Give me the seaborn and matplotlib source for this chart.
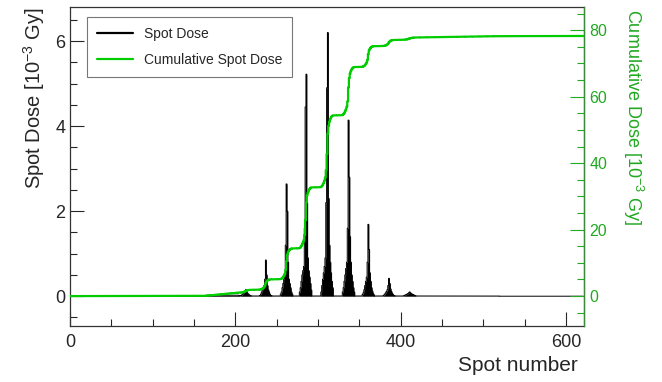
import numpy as np
import pandas as pd
import matplotlib
matplotlib.use("Agg")
import matplotlib.pyplot as plt
import seaborn as sns
from matplotlib.ticker import MultipleLocator

# ---------------- data ----------------
n_spots = 622
# start spot of each energy layer cluster and the spot doses of that cluster [1e-3 Gy]
layer_starts = [206, 230, 255, 278, 304, 330, 354, 379, 404]
layer_doses = [
    [0.01, 0.02, 0.03, 0.05, 0.07, 0.09, 0.12, 0.16, 0.10, 0.07, 0.05, 0.03, 0.02, 0.01, 0.0],
    [0.02, 0.05, 0.10, 0.15, 0.20, 0.25, 0.40, 0.85, 0.50, 0.25, 0.15, 0.10, 0.05, 0.02, 0.01],
    [0.05, 0.10, 0.20, 0.30, 0.40, 0.50, 1.20, 2.64, 2.00, 0.80, 0.40, 0.30, 0.20, 0.10, 0.05],
    [0.10, 0.20, 0.35, 0.50, 0.60, 0.70, 1.60, 4.45, 5.22, 2.20, 0.90, 0.60, 0.45, 0.30, 0.15],
    [0.10, 0.25, 0.40, 0.55, 0.70, 0.90, 2.20, 4.90, 6.20, 2.30, 1.20, 0.80, 0.55, 0.35, 0.20],
    [0.10, 0.20, 0.35, 0.50, 0.65, 0.80, 1.60, 4.14, 2.80, 1.40, 0.80, 0.50, 0.35, 0.20, 0.10],
    [0.04, 0.08, 0.15, 0.25, 0.35, 0.45, 0.80, 1.69, 1.10, 0.55, 0.35, 0.20, 0.12, 0.06, 0.03],
    [0.01, 0.03, 0.05, 0.08, 0.11, 0.15, 0.25, 0.42, 0.30, 0.17, 0.11, 0.07, 0.04, 0.02, 0.01],
    [0.01, 0.02, 0.03, 0.04, 0.05, 0.06, 0.08, 0.10, 0.08, 0.06, 0.05, 0.04, 0.03, 0.02, 0.01],
]
# low background dose level between spot ranges: (first spot, last spot, dose)
bg_first = [0, 165, 205, 420, 520]
bg_last = [165, 205, 420, 520, 622]
bg_dose = [0.0005, 0.024, 0.006, 0.004, 0.0005]

x_ticks = [0, 200, 400, 600]
y_ticks = [0, 2, 4, 6]
y2_ticks = [0, 20, 40, 60, 80]

# ---------------- assemble series ----------------
spot = np.arange(n_spots)
dose = np.zeros(n_spots)
for a, b, v in zip(bg_first, bg_last, bg_dose):
    dose[a:b] = v
for s, prof in zip(layer_starts, layer_doses):
    prof = np.asarray(prof)
    dose[s:s + len(prof)] = np.maximum(dose[s:s + len(prof)], prof)
cum = np.cumsum(dose)
df = pd.DataFrame({"spot": spot, "dose": dose, "cum": cum})

# ---------------- plot ----------------
sns.set_theme(style="ticks")
plt.rcParams["font.family"] = ["Liberation Sans", "DejaVu Sans"]
plt.rcParams["mathtext.fontset"] = "custom"
plt.rcParams["mathtext.rm"] = "Liberation Sans"

GREEN_LINE = "#00cc00"
GREEN_TXT = "#22a822"

fig = plt.figure(figsize=(6.62, 3.82), dpi=100)
ax = fig.add_axes([70 / 662, 1 - 326 / 382, 514 / 662, 319 / 382])
ax2 = ax.twinx()

sns.lineplot(data=df, x="spot", y="dose", ax=ax, color="black", linewidth=0.7,
             estimator=None, drawstyle="steps-mid", label="Spot Dose", legend=False)
ax.fill_between(df["spot"], df["dose"], step="mid", color="black", linewidth=0)
sns.lineplot(data=df, x="spot", y="cum", ax=ax2, color=GREEN_LINE, linewidth=1.6,
             estimator=None, drawstyle="steps-mid", label="Cumulative Spot Dose", legend=False)

ax.set_xlim(0, n_spots)
ax.set_ylim(-0.7, 6.8)
ax2.set_ylim(-9, 87)

ax.set_xticks(x_ticks)
ax.set_yticks(y_ticks)
ax2.set_yticks(y2_ticks)
ax.xaxis.set_minor_locator(MultipleLocator(50))
ax.yaxis.set_minor_locator(MultipleLocator(0.5))
ax2.yaxis.set_minor_locator(MultipleLocator(5))

ax.tick_params(axis="both", which="major", direction="in", labelsize=13, length=10, width=0.8)
ax.tick_params(axis="both", which="minor", direction="in", length=5, width=0.8)
ax.tick_params(axis="x", pad=6)
ax2.tick_params(axis="y", which="major", direction="in", labelsize=11.5, length=10, width=0.8,
                colors=GREEN_TXT, labelcolor=GREEN_TXT, pad=4)
ax2.tick_params(axis="y", which="minor", direction="in", length=5, width=0.8, colors=GREEN_TXT)

for sp in ax.spines.values():
    sp.set_color("#333333")
    sp.set_linewidth(0.9)
for name, sp in ax2.spines.items():
    sp.set_visible(name == "right")
ax2.spines["right"].set_color("#3c8a3c")
ax2.spines["right"].set_linewidth(0.9)

ax.set_xlabel("Spot number", fontsize=15, loc="right")
ax.xaxis.set_label_coords(0.988, -0.093)
ax.set_ylabel("Spot Dose [10$^{-3}$ Gy]", fontsize=14.5, loc="top", labelpad=6)
ax2.set_ylabel("Cumulative Dose [10$^{-3}$ Gy]", fontsize=13, color=GREEN_TXT,
               rotation=-90, rotation_mode="anchor", ha="left", va="bottom")
ax2.yaxis.set_label_coords(1.072, 0.995)

h1, l1 = ax.get_legend_handles_labels()
h2, l2 = ax2.get_legend_handles_labels()
leg = ax2.legend(h1 + h2, l1 + l2, loc="upper left", bbox_to_anchor=(0.033, 0.969),
                 borderaxespad=0, fontsize=10, frameon=True, fancybox=False,
                 handlelength=2.6, labelspacing=0.9, borderpad=0.7, handletextpad=0.8)
leg.get_frame().set_edgecolor("#555555")
leg.get_frame().set_linewidth(0.8)
leg.get_lines()[0].set_linewidth(1.6)

fig.savefig("out.png", dpi=100)
